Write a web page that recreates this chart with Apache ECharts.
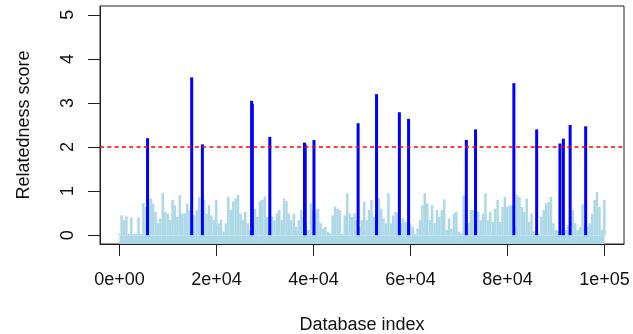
<!DOCTYPE html>
<html>
<head>
<meta charset="utf-8">
<script src="https://cdn.jsdelivr.net/npm/echarts@6/dist/echarts.min.js"></script>
<style>
  html, body { margin: 0; padding: 0; background: #fff; }
  #chart { width: 633px; height: 334px; }
</style>
</head>
<body>
<div id="chart"></div>
<script>
// background scores, one bar every lightStep indices
const lightStep = 500;
const lightValues = [
  0.03, 0.45, 0.34, 0.43, 0.03, 0.40, 0.03, 0.03, 0.40, 0.03, 0.73, 0.64, 0.68, 0.83, 0.72, 0.53, 0.27, 0.38, 0.96, 0.53, 0.49, 0.35, 0.80, 0.68, 0.42, 0.91, 0.49, 0.49,
  0.72, 0.57, 0.45, 0.45, 0.57, 0.86, 0.60, 0.80, 0.49, 0.68, 0.45, 0.35, 0.80, 0.27, 0.35, 0.08, 0.27, 0.87, 0.57, 0.76, 0.83, 0.91, 0.49, 0.35, 0.53, 0.27, 0.12, 0.57, 0.60, 0.42,
  0.77, 0.80, 0.87, 0.42, 0.42, 0.43, 0.34, 0.49, 0.57, 0.34, 0.83, 0.77, 0.49, 0.34, 0.49, 0.19, 0.34, 0.57, 0.42, 0.27, 0.12, 0.72, 0.57, 0.57, 0.60, 0.27, 0.15, 0.19, 0.08, 0.04,
  0.45, 0.65, 0.60, 0.57, 0.03, 0.45, 0.95, 0.49, 0.42, 0.49, 0.35, 0.19, 0.34, 0.76, 0.34, 0.57, 0.80, 0.42, 0.55, 0.85, 0.60, 0.38, 0.27, 0.95, 0.27, 0.45, 0.53, 0.50, 0.27, 0.38,
  0.30, 0.30, 0.27, 0.19, 0.03, 0.15, 0.34, 0.68, 0.95, 0.72, 0.34, 0.68, 0.27, 0.57, 0.42, 0.57, 0.81, 0.12, 0.38, 0.15, 0.49, 0.53, 0.08, 0.04, 0.90, 0.64, 0.27, 0.57, 0.57, 0.30,
  0.53, 0.34, 0.49, 0.95, 0.34, 0.53, 0.30, 0.60, 0.80, 0.30, 0.64, 0.87, 0.64, 0.68, 0.68, 0.20, 0.91, 0.87, 0.64, 0.53, 0.83, 0.30, 0.49, 0.08, 0.04, 0.03, 0.42, 0.57, 0.72, 0.75,
  0.87, 0.27, 0.12, 0.10, 0.10, 0.10, 0.12, 0.23, 0.30, 0.57, 0.27, 0.12, 0.19, 0.70, 0.27, 0.19, 0.27, 0.49, 0.80, 0.98, 0.64, 0.12, 0.80
];

// hits above the threshold
const blueIdx = [5800, 14900, 17100, 27250, 27400, 31000, 38150, 38300, 40100, 49200, 53000, 57700, 59600, 71500, 73400, 81300, 86000, 90800, 91500, 92900, 96100];
const blueVal = [2.20, 3.58, 2.06, 3.05, 2.98, 2.23, 2.10, 2.06, 2.16, 2.54, 3.20, 2.79, 2.64, 2.16, 2.40, 3.45, 2.40, 2.08, 2.19, 2.50, 2.47];

const threshold = 2;
const xTicks = [0, 20000, 40000, 60000, 80000, 100000];
const xTickLabels = ['0e+00', '2e+04', '4e+04', '6e+04', '8e+04', '1e+05'];
const yTicks = [0, 1, 2, 3, 4, 5];

const chart = echarts.init(document.getElementById('chart'));
const font = 'Liberation Sans, Arial, sans-serif';
const ink = '#222';

const option = {
  animation: false,
  grid: {
    left: 100, right: 9, top: 6, bottom: 90,
    containLabel: false,
    outerBoundsMode: 'none',
    show: true, borderColor: ink, borderWidth: 1, backgroundColor: 'transparent'
  },
  xAxis: {
    type: 'value',
    min: -4000,
    max: 104000,
    name: 'Database index',
    nameLocation: 'middle',
    nameGap: 72,
    nameTextStyle: { fontFamily: font, fontSize: 18, color: '#111' },
    axisLine: { show: true, onZero: false, lineStyle: { color: ink } },
    splitLine: { show: false },
    axisTick: { show: true, inside: false, length: 12, customValues: xTicks, lineStyle: { color: ink } },
    axisLabel: {
      customValues: xTicks,
      margin: 27,
      fontFamily: font, fontSize: 18, color: '#111',
      formatter: (v) => xTickLabels[xTicks.indexOf(v)]
    }
  },
  yAxis: {
    type: 'value',
    min: -0.2,
    max: 5.2,
    name: 'Relatedness score',
    nameLocation: 'middle',
    nameGap: 67,
    nameTextStyle: { fontFamily: font, fontSize: 18, color: '#111' },
    axisLine: { show: true, onZero: false, lineStyle: { color: ink } },
    splitLine: { show: false },
    axisTick: { show: true, inside: false, length: 12, customValues: yTicks, lineStyle: { color: ink } },
    axisLabel: {
      customValues: yTicks,
      rotate: 90,
      margin: 23,
      fontFamily: font, fontSize: 18, color: '#111'
    }
  },
  series: [
    {
      name: 'background',
      type: 'bar',
      barWidth: 2.5,
      barGap: '-100%',
      itemStyle: { color: '#ADD8E6' },
      data: lightValues.map((v, i) => [i * lightStep, v]),
      markArea: {
        silent: true,
        itemStyle: { color: '#ADD8E6', opacity: 1 },
        data: [[{ xAxis: 0, yAxis: -0.2 }, { xAxis: (lightValues.length - 1) * lightStep, yAxis: 0 }]]
      }
    },
    {
      name: 'hits',
      type: 'bar',
      barWidth: 3,
      barGap: '-100%',
      itemStyle: { color: '#0000FF' },
      data: blueIdx.map((x, i) => [x, blueVal[i]]),
      markLine: {
        silent: true,
        symbol: 'none',
        label: { show: false },
        lineStyle: { color: '#FF0000', type: [4, 3.3], width: 1.5 },
        data: [{ yAxis: threshold }]
      }
    }
  ]
};

chart.setOption(option);
</script>
</body>
</html>
